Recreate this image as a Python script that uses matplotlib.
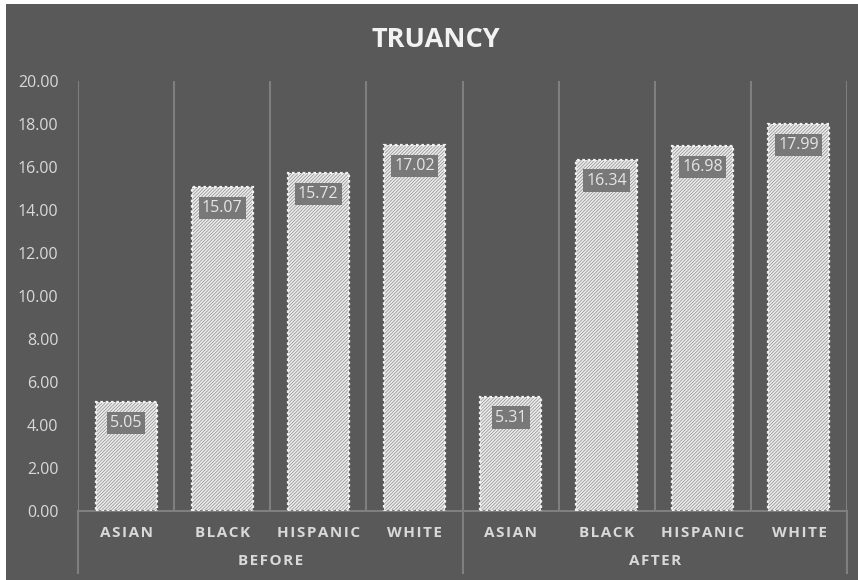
import matplotlib.pyplot as plt
from matplotlib.patches import Rectangle
import numpy as np

plt.rcParams['font.family'] = ['Open Sans', 'DejaVu Sans']
plt.rcParams['hatch.linewidth'] = 1.2

groups = ['BEFORE', 'AFTER']
races = ['ASIAN', 'BLACK', 'HISPANIC', 'WHITE']
before = [5.05, 15.07, 15.72, 17.02]
after = [5.31, 16.34, 16.98, 17.99]

BG = '#595959'
LINE = '#7f7f7f'
TXT = '#d9d9d9'

values = before + after
labels = races + races
x = np.arange(len(values))


def spaced(s):
    # widen the letters a bit
    return '\u200a'.join(s)


fig = plt.figure(figsize=(8.58, 5.8), dpi=100, facecolor='white')
fig.patches.append(Rectangle((6 / 858, 0), 1, 1 - 4 / 580, transform=fig.transFigure,
                             facecolor=BG, edgecolor='none', zorder=-10))

ax = fig.add_axes([78 / 858, 69 / 580, 769 / 858, 430 / 580])
ax.set_facecolor(BG)
ax.patch.set_alpha(0)

w = 0.635
ax.bar(x, values, width=w, color='#8a8a8a', edgecolor='#ececec', hatch='/' * 10,
       linewidth=0, zorder=2)
ax.bar(x, values, width=w, fill=False, edgecolor='#f0f0f0', linewidth=1.6,
       linestyle=(0, (1.2, 1.2)), zorder=3)

for xi, v in zip(x, values):
    ax.annotate(f'{v:.2f}', (xi, v), xytext=(0, -15), textcoords='offset points',
                ha='center', va='center', fontsize=11.5, color='#e6e6e6', zorder=4,
                bbox=dict(boxstyle='square,pad=0.2', facecolor='#787878',
                          edgecolor='none'))

ax.set_xlim(-0.5, len(values) - 0.5)
ax.set_ylim(0, 20)
ax.set_yticks(np.arange(0, 21, 2))
ax.set_yticklabels([f'{t:.2f}' for t in np.arange(0, 21, 2)])
ax.set_xticks(x)
ax.set_xticklabels([spaced(s) for s in labels], fontweight='bold')
ax.tick_params(axis='both', length=0, colors=TXT, labelsize=11.5)
ax.tick_params(axis='x', pad=11, labelsize=11)
ax.tick_params(axis='y', pad=14)

for s in ['top', 'right', 'left']:
    ax.spines[s].set_visible(False)
ax.spines['bottom'].set_color(LINE)
ax.spines['bottom'].set_linewidth(1.5)

# separators between categories inside the plot
for b in np.arange(-0.5, len(values), 1.0):
    ax.axvline(b, color=LINE, linewidth=1.5, zorder=1)

# group separators run down through the label area
for b in [-0.5, 3.5, 7.5]:
    ax.plot([b, b], [0, -2.9], color=LINE, linewidth=1.5, clip_on=False, zorder=1)

for i, g in enumerate(groups):
    ax.text(1.5 + 4 * i, -2.33, spaced(g), ha='center', va='center', fontsize=11,
            fontweight='bold', color=TXT)

fig.text(436 / 858, 1 - 40 / 580, 'TRUANCY', ha='center', va='center', fontsize=19.5,
         fontweight='bold', color='#f2f2f2')

fig.savefig('out.png', dpi=100, facecolor=fig.get_facecolor())
